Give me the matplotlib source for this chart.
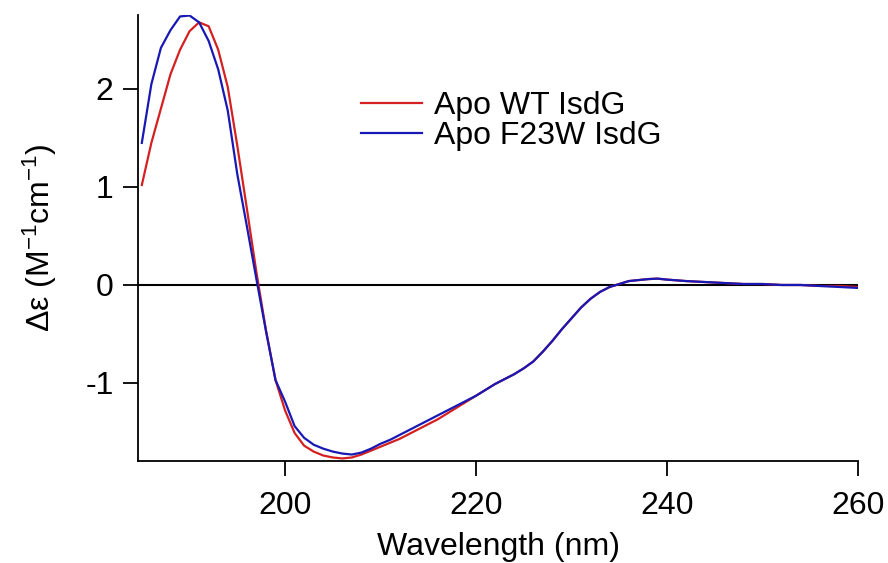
import matplotlib
matplotlib.use("Agg")
import matplotlib.pyplot as plt

plt.rcParams['font.family'] = ['Liberation Sans', 'DejaVu Sans']
plt.rcParams['mathtext.fontset'] = 'custom'
plt.rcParams['mathtext.rm'] = 'Liberation Sans'
plt.rcParams['mathtext.it'] = 'Liberation Sans:italic'
plt.rcParams['axes.unicode_minus'] = False

wavelength = [185, 186, 187, 188, 189, 190, 191, 192, 193, 194, 195, 196, 197, 198, 199,
              200, 201, 202, 203, 204, 205, 206, 207, 208, 209, 210, 211, 212, 213, 214,
              215, 216, 217, 218, 219, 220, 221, 222, 223, 224, 225, 226, 227, 228, 229,
              230, 231, 232, 233, 234, 235, 236, 237, 238, 239, 240, 242, 244, 246, 248,
              250, 252, 254, 256, 258, 260]

wt_isdg = [1.02, 1.45, 1.80, 2.15, 2.40, 2.59, 2.68, 2.64, 2.40, 2.02, 1.42, 0.78, 0.13, -0.46, -0.97,
           -1.28, -1.51, -1.64, -1.70, -1.74, -1.76, -1.77, -1.76, -1.73, -1.69, -1.65, -1.61, -1.57, -1.52, -1.47,
           -1.42, -1.37, -1.31, -1.25, -1.19, -1.13, -1.07, -1.01, -0.96, -0.91, -0.85, -0.78, -0.68, -0.57, -0.45,
           -0.34, -0.23, -0.14, -0.07, -0.02, 0.01, 0.04, 0.05, 0.06, 0.065, 0.055, 0.04, 0.03, 0.02, 0.01,
           0.01, 0.00, 0.00, -0.01, -0.01, -0.02]

f23w_isdg = [1.45, 2.05, 2.42, 2.60, 2.74, 2.75, 2.68, 2.49, 2.20, 1.78, 1.13, 0.60, 0.06, -0.47, -0.97,
             -1.19, -1.44, -1.56, -1.63, -1.67, -1.70, -1.72, -1.73, -1.71, -1.67, -1.62, -1.58, -1.53, -1.48, -1.43,
             -1.38, -1.33, -1.28, -1.23, -1.18, -1.13, -1.07, -1.01, -0.96, -0.91, -0.85, -0.78, -0.68, -0.57, -0.45,
             -0.34, -0.23, -0.14, -0.07, -0.02, 0.01, 0.04, 0.05, 0.06, 0.065, 0.055, 0.04, 0.03, 0.02, 0.01,
             0.01, 0.00, 0.00, -0.01, -0.02, -0.03]

x_ticks = [200, 220, 240, 260]
y_ticks = [-1, 0, 1, 2]

fig = plt.figure(figsize=(8.88, 5.63), dpi=100)
ax = fig.add_axes([138/888, 1-461/563, (858-138)/888, (461-15)/563])

ax.axhline(0, color='black', lw=1.5, zorder=1)
ax.plot(wavelength, wt_isdg, color='#d42020', lw=1.6, label='Apo WT IsdG', zorder=2)
ax.plot(wavelength, f23w_isdg, color='#1818b4', lw=1.6, label='Apo F23W IsdG', zorder=3)

ax.set_xlim(184.6, 260)
ax.set_ylim(-1.796, 2.755)
ax.set_xticks(x_ticks)
ax.set_xticklabels([str(t) for t in x_ticks])
ax.set_yticks(y_ticks)
ax.set_yticklabels([str(t) for t in y_ticks])

for s in ['top', 'right']:
    ax.spines[s].set_visible(False)
for s in ['left', 'bottom']:
    ax.spines[s].set_linewidth(1.3)
    ax.spines[s].set_color('black')

ax.tick_params(axis='both', direction='out', length=10.5, width=1.3, labelsize=23, colors='black')
ax.tick_params(axis='x', pad=11)
ax.tick_params(axis='y', pad=7)

ax.set_xlabel('Wavelength (nm)', fontsize=23, labelpad=8)
ax.set_ylabel(r'Δε (M$^{\mathrm{-1}}$cm$^{\mathrm{-1}}$)', fontsize=23, labelpad=19)

leg = ax.legend(loc='center left', bbox_to_anchor=(361/888, 1-121/563),
                bbox_transform=fig.transFigure, frameon=False, fontsize=23,
                handlelength=1.9, handletextpad=0.4, labelspacing=0.0,
                borderpad=0, borderaxespad=0)

fig.savefig('out.png', dpi=100)
